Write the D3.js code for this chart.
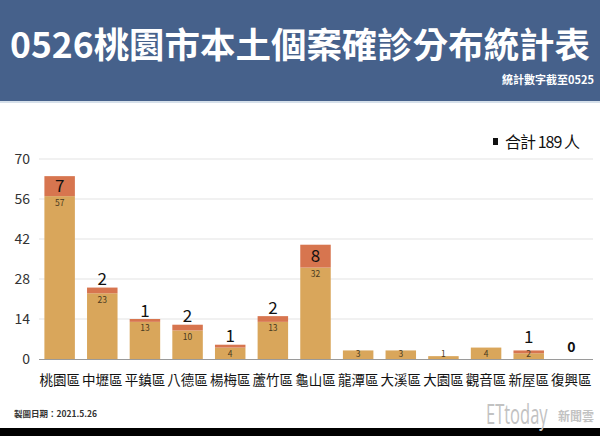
<!DOCTYPE html>
<html><head><meta charset="utf-8">
<script src="https://cdn.jsdelivr.net/npm/d3@7"></script>
<style>html,body{margin:0;padding:0;background:#fff;}svg{display:block;}</style>
</head><body>
<script>
const categories = ["桃園區","中壢區","平鎮區","八德區","楊梅區","蘆竹區","龜山區","龍潭區","大溪區","大園區","觀音區","新屋區","復興區"];
const baseValues = [57,23,13,10,4,13,32,3,3,1,4,2,0];
const newValues  = [7,2,1,2,1,2,8,0,0,0,0,1,0];
const yTicks = [0,14,28,42,56,70];
const titleText = "0526桃園市本土個案確診分布統計表";
const subtitleText = "統計數字截至0525";
const legendText = "合計 189 人";
const footerText = "製圖日期：2021.5.26";

const W = 600, H = 436;
const font = "'Noto Sans CJK TC','Noto Sans',sans-serif";
const svg = d3.select("body").append("svg").attr("width", W).attr("height", H);

// header
svg.append("rect").attr("x",0).attr("y",0).attr("width",W).attr("height",101).attr("fill","#46618b");
svg.append("rect").attr("x",0).attr("y",101).attr("width",W).attr("height",2).attr("fill","#d6e0ea");
svg.append("text").attr("x",300).attr("y",58).attr("text-anchor","middle")
  .attr("font-family",font).attr("font-weight","bold").attr("font-size",35)
  .attr("fill","#fff").attr("textLength",580).attr("lengthAdjust","spacingAndGlyphs").text(titleText);
svg.append("text").attr("x",594).attr("y",84).attr("text-anchor","end")
  .attr("font-family",font).attr("font-weight","bold").attr("font-size",11).attr("fill","#fff").text(subtitleText);

// bottom band
svg.append("rect").attr("x",0).attr("y",428).attr("width",W).attr("height",H-428).attr("fill","#000");

const x = d3.scaleBand().domain(categories).range([38,593]).paddingInner(0.285).paddingOuter(0.15);
const y = d3.scaleLinear().domain([0,70]).range([359,159]);

// grid
svg.append("g").selectAll("line").data(yTicks.filter(d=>d>0)).join("line")
  .attr("x1",39).attr("x2",593).attr("y1",d=>y(d)).attr("y2",d=>y(d))
  .attr("stroke","#e3e3e3").attr("stroke-width",1);
svg.append("line").attr("x1",39).attr("x2",593).attr("y1",y(0)+0.5).attr("y2",y(0)+0.5)
  .attr("stroke","#9a9a9a").attr("stroke-width",1.2);

// y axis labels
svg.append("g").selectAll("text").data(yTicks).join("text")
  .attr("x",30).attr("y",d=>y(d)+5).attr("text-anchor","end")
  .attr("font-family",font).attr("font-size",14).attr("fill","#333").text(d=>d);

const data = categories.map((c,i)=>({c, b:baseValues[i], n:newValues[i]}));
const g = svg.append("g");
// base bars
g.selectAll("rect.base").data(data).join("rect").attr("class","base")
  .attr("x",d=>x(d.c)).attr("width",x.bandwidth())
  .attr("y",d=>y(d.b)).attr("height",d=>y(0)-y(d.b)).attr("fill","#d9a65b");
// new bars
g.selectAll("rect.new").data(data).join("rect").attr("class","new")
  .attr("x",d=>x(d.c)).attr("width",x.bandwidth())
  .attr("y",d=>y(d.b+d.n)).attr("height",d=>y(d.b)-y(d.b+d.n)).attr("fill","#d7754f");

// base labels
g.selectAll("text.bl").data(data.filter(d=>d.b>0)).join("text").attr("class","bl")
  .attr("x",d=>x(d.c)+x.bandwidth()/2).attr("y",d=>Math.min(y(d.b)+6.5,353.5)+3)
  .attr("text-anchor","middle").attr("font-family",font).attr("font-size",8.5).attr("fill","#4a3a20").text(d=>d.b);

// new labels
const showNew = data.filter(d=>d.n>0 || d.b===0);
g.selectAll("text.nl").data(showNew).join("text").attr("class","nl")
  .attr("x",d=>x(d.c)+x.bandwidth()/2)
  .attr("y",d=>{
     const top=y(d.b+d.n), h=y(d.b)-top;
     if(d.b===0 && d.n===0) return top-12+5;
     if(h>=18) return top+h/2+6;
     if(d.b<3) return top-13+6;
     return top-8.5+6;
  })
  .attr("text-anchor","middle").attr("font-family",font)
  .attr("font-size",d=>(d.b===0&&d.n===0)?14:17)
  .attr("font-weight",d=>(d.b===0&&d.n===0)?"bold":"normal")
  .attr("fill","#111").text(d=>d.n);

// x labels
svg.append("g").selectAll("text").data(categories).join("text")
  .attr("x",d=>x(d)+x.bandwidth()/2).attr("y",385).attr("text-anchor","middle")
  .attr("font-family",font).attr("font-size",13.5).attr("fill","#111").text(d=>d);

// legend
svg.append("rect").attr("x",493).attr("y",138).attr("width",5).attr("height",7).attr("fill","#111");
svg.append("text").attr("x",505).attr("y",147.5).attr("font-family",font).attr("font-size",16)
  .attr("fill","#111").attr("textLength",75).attr("lengthAdjust","spacing").text(legendText);

// footer
svg.append("text").attr("x",14).attr("y",417).attr("font-family",font).attr("font-weight","bold")
  .attr("font-size",8.5).attr("fill","#333").text(footerText);
svg.append("text").attr("transform","translate(486,424) scale(1,1.6)")
  .attr("font-family","'Open Sans','DejaVu Sans',sans-serif")
  .attr("font-size",16.5).attr("fill","#c2c2c2").text("ETtoday");
svg.append("text").attr("x",558).attr("y",421).attr("font-family",font).attr("font-weight","bold")
  .attr("font-size",12).attr("fill","#c2c2c2").text("新聞雲");
</script>
</body></html>
